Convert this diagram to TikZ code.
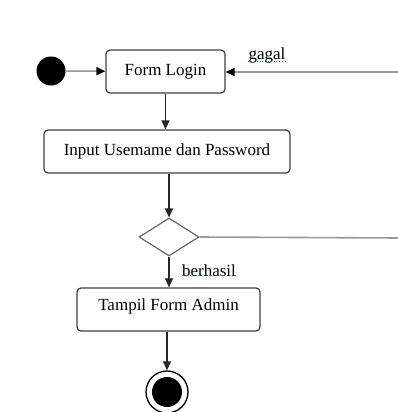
\documentclass[tikz,border=0pt]{standalone}
\usepackage{fontspec}
\setmainfont{Liberation Serif}
\usetikzlibrary{arrows.meta,shapes.geometric}
\begin{document}
\begin{tikzpicture}[x=1pt,y=-1pt,
  act/.style={draw=black!75,line width=1.2pt,rounded corners=4pt,inner sep=0pt,font=\fontsize{17}{20}\selectfont},
  flow/.style={draw=black!85,line width=1.3pt,-{Triangle[length=9pt,width=8pt]}},
  gflow/.style={draw=black!40,line width=1.6pt,-{Triangle[length=9pt,width=8pt,fill=black,color=black]}},
  lbl/.style={font=\fontsize{17}{20}\selectfont,inner sep=0pt},
  squig/.style={draw=green!55!black,line width=0.8pt,dotted}]
\useasboundingbox (0,0) rectangle (398,412);
\fill[white] (0,0) rectangle (398,412);
% start
\node[circle,fill=black,minimum size=29pt,inner sep=0pt] (start) at (51,71) {};
% Form Login
\node[act,minimum width=119pt,minimum height=43pt] (login) at (165.5,71.5) {Form Login};
% Input
\node[act,minimum width=246pt,minimum height=43pt] (input) at (167,151.5) {Input Usemame dan Password};
% decision
\node[diamond,draw=black!60,line width=1.2pt,minimum width=60pt,minimum height=38pt,inner sep=0pt,aspect=1.6] (dec) at (169,237) {};
% Tampil
\node[act,minimum width=183pt,minimum height=43pt,text depth=8pt] (admin) at (168.5,309.5) {};
\node[lbl] (admintxt) at (168.5,306) {Tampil Form Admin};
% end
\node[circle,draw=black,line width=1.3pt,minimum size=42pt,inner sep=0pt] (endo) at (167,392) {};
\node[circle,fill=black,minimum size=30pt,inner sep=0pt] (endi) at (endo) {};
% coordinates at right edge
\coordinate (r1) at (398,72);
\coordinate (r2) at (398,238);
% edges
\draw[gflow] (start) -- (login);
\draw[flow] (login.south) -- (input.north -| login.south);
\draw[flow] (input.south -| dec.north) -- (dec.north);
\draw[flow] (dec.south) -- (admin.north -| dec.south);
\draw[flow] (admin.south -| endo.north) -- (endo.north);
\draw[gflow] (r1) -- (login.east |- r1);
\draw[draw=black!40,line width=1.6pt] (dec.east) -- (r2);
% labels
\node[lbl] (gagal) at (267,55) {gagal};
\draw[squig] ([yshift=2pt]gagal.south west) -- ([yshift=2pt]gagal.south east);
\node[lbl] (berhasil) at (209,271) {berhasil};
\draw[squig] ([yshift=2pt]berhasil.south west) -- ([yshift=2pt]berhasil.south east);
\end{tikzpicture}
\end{document}
